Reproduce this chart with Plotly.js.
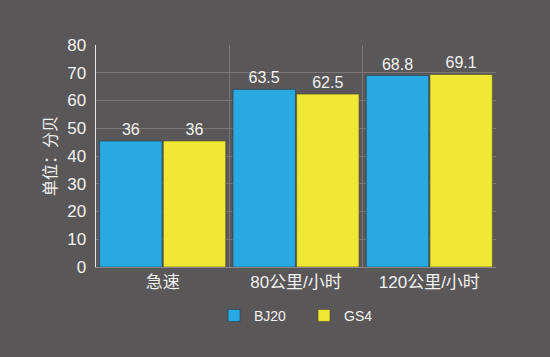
<!DOCTYPE html>
<html><head><meta charset="utf-8">
<script src="https://cdn.plot.ly/plotly-3.0.1.min.js"></script>
<style>html,body{margin:0;padding:0;background:#595757;}#chart{width:550px;height:357px;}</style>
</head><body><div id="chart"></div>
<script>
const categories = ["急速", "80公里/小时", "120公里/小时"];
const seriesNames = ["BJ20", "GS4"];
// bar heights as drawn in the picture
const bj20Heights = [45.4, 64.0, 69.0];
const gs4Heights = [45.4, 62.3, 69.4];
// value labels printed above the bars
const bj20Labels = ["36", "63.5", "68.8"];
const gs4Labels = ["36", "62.5", "69.1"];
const yTicks = [0, 10, 20, 30, 40, 50, 60, 70, 80];

const FONT = "Liberation Sans, Arial, Noto Sans CJK SC, sans-serif";
const textFont = {family: FONT, size: 16, color: "#f2f2f2"};

const traces = [
  {type: "bar", name: seriesNames[0], x: categories, y: bj20Heights, text: bj20Labels,
   textposition: "outside", textfont: textFont, cliponaxis: false, hoverinfo: "none",
   marker: {color: "#29a9e1", line: {color: "rgba(40,60,80,0.6)", width: 1}}},
  {type: "bar", name: seriesNames[1], x: categories, y: gs4Heights, text: gs4Labels,
   textposition: "outside", textfont: textFont, cliponaxis: false, hoverinfo: "none",
   marker: {color: "#f0e834", line: {color: "rgba(80,80,40,0.6)", width: 1}}}
];

const layout = {
  width: 550, height: 357,
  paper_bgcolor: "#595757", plot_bgcolor: "#595757",
  margin: {l: 96, r: 54, t: 45, b: 90},
  barmode: "group", bargap: 0.045, bargroupgap: 0.02,
  font: {family: FONT, color: "#f2f2f2"},
  showlegend: true,
  legend: {orientation: "h", x: 0.52, xanchor: "center", y: -0.22, yanchor: "middle",
           font: {family: FONT, size: 14, color: "#f2f2f2"}, bgcolor: "rgba(0,0,0,0)",
           entrywidth: 45, itemwidth: 30},
  xaxis: {type: "category", tickson: "boundaries", showgrid: true, gridcolor: "#7a7878", gridwidth: 1,
          ticks: "", showline: true, linecolor: "#8a8888", linewidth: 1,
          tickfont: {family: FONT, size: 17, color: "#f2f2f2"}, fixedrange: true},
  yaxis: {range: [0, 80], tickvals: yTicks, ticktext: yTicks.map(String),
          showgrid: true, gridcolor: "#7a7878", gridwidth: 1, zeroline: false,
          showline: true, linecolor: "#e6e6e6", linewidth: 1.5, ticks: "",
          ticklabelstandoff: 5,
          tickfont: {family: FONT, size: 17, color: "#f2f2f2"},
          title: {text: "单位：分贝", font: {family: "Noto Sans CJK SC, sans-serif", size: 16, color: "#f2f2f2"}, standoff: 6},
          fixedrange: true}
};

Plotly.newPlot("chart", traces, layout, {staticPlot: true, displayModeBar: false});
</script>
</body></html>
